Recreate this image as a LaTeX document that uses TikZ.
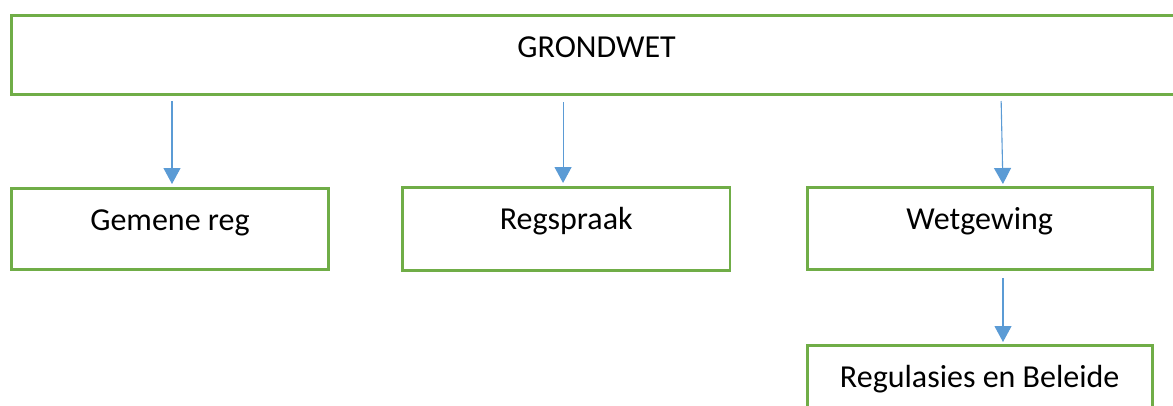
\documentclass[tikz,border=0pt]{standalone}
\usepackage{fontspec}
\setmainfont{Carlito}
\usetikzlibrary{arrows.meta}
\definecolor{boxgreen}{HTML}{70AD47}
\definecolor{arrowblue}{HTML}{5B9BD5}
\begin{document}
\begin{tikzpicture}[x=1pt,y=-1pt,
  box/.style={draw=boxgreen, line width=2.8pt, inner xsep=0pt, inner ysep=0pt,
    outer sep=0pt, text height=42pt, anchor=north west,
    font=\fontsize{32}{38}\selectfont},
  arr/.style={draw=arrowblue, line width=1.1pt,
    -{Triangle[width=17pt,length=16pt]}}]
\clip (0,0) rectangle (1173,405);
\fill[white] (0,0) rectangle (1173,405);

% boxes
\node[box, minimum width=1170.8pt, minimum height=79pt, text depth=37pt]
  (grond) at (11.2,15.3) {GRONDWET};
\node[box, minimum width=317.6pt, minimum height=81.3pt, text depth=39.3pt]
  (gem) at (11.2,188.5) {Gemene reg};
\node[box, minimum width=327.5pt, minimum height=83pt, text depth=41pt]
  (regs) at (402.5,187.8) {Regspraak};
\node[box, minimum width=345pt, minimum height=82.6pt, text depth=40.6pt]
  (wet) at (807.2,187.2) {Wetgewing};
\node[box, minimum width=345pt, minimum height=82pt, text depth=40pt]
  (regul) at (807.2,345.2) {Regulasies en Beleide};

% connectors
\draw[arr, shorten <=6.7pt, shorten >=4.5pt]
  ([xshift=2pt]gem.north |- grond.south) -- ([xshift=2pt]gem.north);
\draw[arr, shorten <=7.7pt, shorten >=4.8pt]
  ([xshift=-3.2pt]regs.north |- grond.south) -- ([xshift=-3.2pt]regs.north);
\draw[arr, shorten <=6.7pt, shorten >=3.2pt]
  ([xshift=21.3pt]wet.north |- grond.south) -- ([xshift=23.3pt]wet.north);
\draw[arr, shorten <=8.2pt, shorten >=3.2pt]
  ([xshift=23.3pt]wet.south) -- ([xshift=23.3pt]regul.north);
\end{tikzpicture}
\end{document}
